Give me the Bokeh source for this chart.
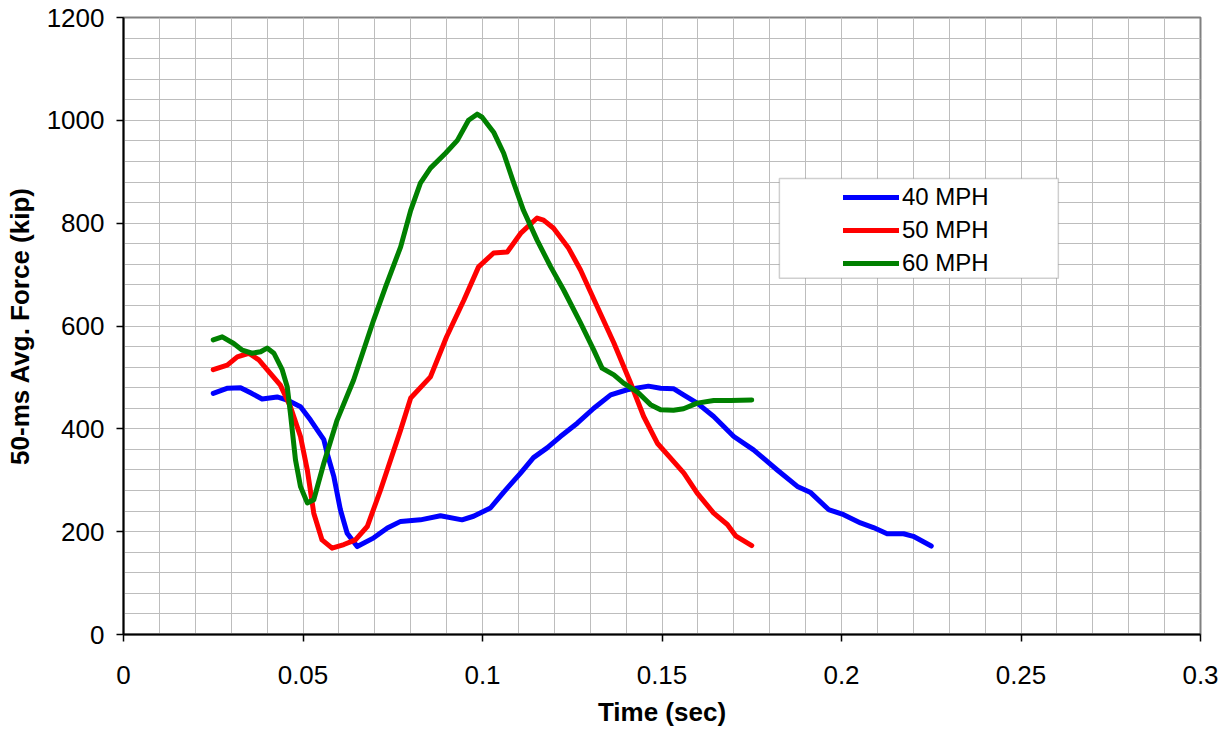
from bokeh.plotting import figure
from bokeh.models import FixedTicker, Legend, LegendItem, BoxAnnotation
from bokeh.embed import file_html
from bokeh.resources import INLINE

# ---- data ----
x40 = [0.025, 0.029, 0.0326, 0.0354, 0.0386, 0.0428, 0.0456, 0.0493, 0.0521, 0.0558, 0.0567, 0.0586,
       0.0604, 0.0623, 0.0651, 0.0697, 0.0735, 0.0772, 0.0827, 0.0883, 0.0943, 0.0975, 0.1022, 0.1058,
       0.1106, 0.1142, 0.118, 0.1217, 0.1264, 0.131, 0.1357, 0.1403, 0.1462, 0.1496, 0.1532, 0.156,
       0.1598, 0.1644, 0.17, 0.1755, 0.1821, 0.1877, 0.1914, 0.1964, 0.2006, 0.2053, 0.2089, 0.2127,
       0.2173, 0.22, 0.225]
y40 = [469, 479, 480, 470, 458, 462, 456, 443, 417, 379, 353, 307,
       243, 197, 171, 188, 207, 220, 223, 231, 223, 230, 246, 276,
       314, 344, 363, 385, 411, 440, 466, 476, 483, 479, 478, 466,
       450, 424, 385, 359, 320, 288, 276, 243, 233, 217, 208, 196,
       196, 191, 172]

x50 = [0.025, 0.0289, 0.0317, 0.0349, 0.0377, 0.0409, 0.0437, 0.0465, 0.0493, 0.0512, 0.053, 0.0553,
       0.0581, 0.0614, 0.0646, 0.0679, 0.0716, 0.0772, 0.080, 0.0855, 0.090, 0.0948, 0.0989, 0.1031,
       0.1069, 0.1106, 0.1152, 0.117, 0.1198, 0.124, 0.1273, 0.132, 0.1366, 0.1412, 0.1449, 0.1487,
       0.1524, 0.1561, 0.1598, 0.1644, 0.1682, 0.1705, 0.175]
y50 = [515, 524, 540, 547, 534, 508, 485, 443, 385, 320, 236, 184,
       168, 175, 184, 210, 281, 398, 460, 501, 579, 650, 715, 742,
       744, 780, 810, 806, 790, 751, 709, 637, 567, 490, 424, 372,
       343, 314, 275, 236, 214, 192, 173]

x60 = [0.025, 0.0275, 0.0307, 0.0331, 0.0358, 0.0382, 0.040, 0.0419, 0.0442, 0.0456, 0.0465, 0.0479,
       0.0493, 0.0512, 0.053, 0.0558, 0.0595, 0.0641, 0.0697, 0.073, 0.0772, 0.080, 0.0827, 0.0855,
       0.0897, 0.093, 0.0961, 0.0985, 0.0999, 0.1031, 0.1059, 0.1087, 0.1114, 0.1152, 0.119, 0.1226,
       0.1273, 0.131, 0.1333, 0.1366, 0.1393, 0.1431, 0.1468, 0.1496, 0.1532, 0.156, 0.1598, 0.1644,
       0.1691, 0.175]
y60 = [573, 579, 566, 553, 547, 550, 557, 547, 515, 482, 430, 340,
       288, 256, 262, 333, 417, 495, 612, 676, 754, 825, 878, 907,
       936, 961, 1000, 1012, 1006, 977, 936, 878, 825, 767, 715, 670,
       606, 553, 518, 505, 489, 472, 447, 437, 436, 439, 450, 455,
       455, 456]

series_names = ["40 MPH", "50 MPH", "60 MPH"]
series_colors = ["#0000ff", "#ff0000", "#008000"]

x_ticks = [0, 0.05, 0.1, 0.15, 0.2, 0.25, 0.3]
x_tick_labels = ["0", "0.05", "0.1", "0.15", "0.2", "0.25", "0.3"]
x_minor = [round(i * 0.01, 2) for i in range(31)]
y_ticks = [0, 200, 400, 600, 800, 1000, 1200]
y_minor = [i * 40 for i in range(31)]

FONT = "Liberation Sans"

p = figure(width=1223, height=729, x_range=(0, 0.3), y_range=(0, 1200),
           output_backend="svg", toolbar_location=None,
           min_border_left=123, min_border_right=23, min_border_top=17, min_border_bottom=94)
p.background_fill_color = "white"
p.border_fill_color = "white"
p.outline_line_color = "#808080"
p.outline_line_width = 2

p.xaxis.ticker = FixedTicker(ticks=x_ticks, minor_ticks=x_minor)
p.yaxis.ticker = FixedTicker(ticks=y_ticks, minor_ticks=y_minor)
p.xaxis.major_label_overrides = {t: l for t, l in zip(x_ticks, x_tick_labels)}

for ax in (p.xaxis, p.yaxis):
    ax.axis_line_color = "black"
    ax.axis_line_width = 2
    ax.major_tick_line_color = "black"
    ax.major_tick_line_width = 1.5
    ax.major_tick_in = 0
    ax.major_tick_out = 7
    ax.minor_tick_line_color = None
    ax.major_label_text_font = FONT
    ax.major_label_text_font_size = "26px"
    ax.major_label_text_color = "black"
    ax.axis_label_text_font = FONT
    ax.axis_label_text_font_size = "26px"
    ax.axis_label_text_font_style = "bold"
    ax.axis_label_text_color = "black"

p.xaxis.axis_label = "Time (sec)"
p.yaxis.axis_label = "50-ms Avg. Force (kip)"
p.xaxis.major_label_standoff = 24
p.yaxis.major_label_standoff = 12
p.xaxis.axis_label_standoff = 10
p.yaxis.axis_label_standoff = 9

for g in (p.xgrid, p.ygrid):
    g.grid_line_color = "#bdbdbd"
    g.grid_line_width = 1
    g.minor_grid_line_color = "#bdbdbd"
    g.minor_grid_line_width = 1

renderers = []
for xs, ys, c in zip([x40, x50, x60], [y40, y50, y60], series_colors):
    r = p.line(xs, ys, line_color=c, line_width=5, line_join="round", line_cap="round")
    renderers.append(r)

# legend box (white, gray border)
box = BoxAnnotation(left=0.1827, right=0.2604, bottom=693, top=887,
                    fill_color="white", fill_alpha=1, line_color="#606060", line_width=1.5)
p.add_layout(box)

legend = Legend(items=[LegendItem(label=n, renderers=[r]) for n, r in zip(series_names, renderers)],
                location=(720, 357), padding=0, spacing=5, glyph_width=56, glyph_height=24,
                label_height=24, label_standoff=3, label_text_font=FONT, label_text_font_size="24px",
                label_text_color="black",
                border_line_alpha=0, background_fill_alpha=0, margin=0)
p.add_layout(legend, "center")

open("out.html", "w").write(file_html(p, INLINE))
